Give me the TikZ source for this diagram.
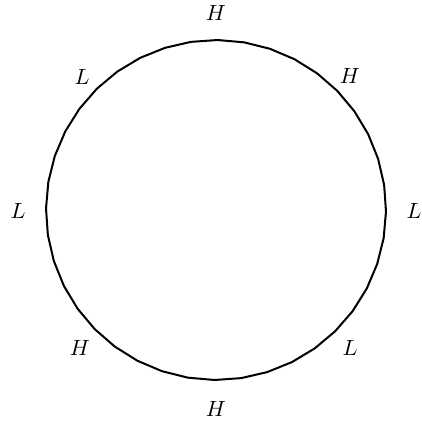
\documentclass[tikz,border=0pt]{standalone}
\begin{document}
\begin{tikzpicture}[x=1pt,y=-1pt,
  lab/.style={scale=2.2, inner sep=0pt},
  ring/.style={line width=2pt, line join=round}]
\useasboundingbox (0,0) rectangle (421,425);
\coordinate (c) at (216,210);
\draw[ring] plot[samples=41, domain=8.5:368.5, variable=\t] ({216+170*cos(\t)},{210-170*sin(\t)}) -- cycle;
\node[lab] (n1) at (216,13) {$H$};
\node[lab] (n2) at (350,76) {$H$};
\node[lab] (n3) at (414,211) {$L$};
\node[lab] (n4) at (350,348) {$L$};
\node[lab] (n5) at (216,409) {$H$};
\node[lab] (n6) at (80,348) {$H$};
\node[lab] (n7) at (18,211) {$L$};
\node[lab] (n8) at (82,77) {$L$};
\end{tikzpicture}
\end{document}
